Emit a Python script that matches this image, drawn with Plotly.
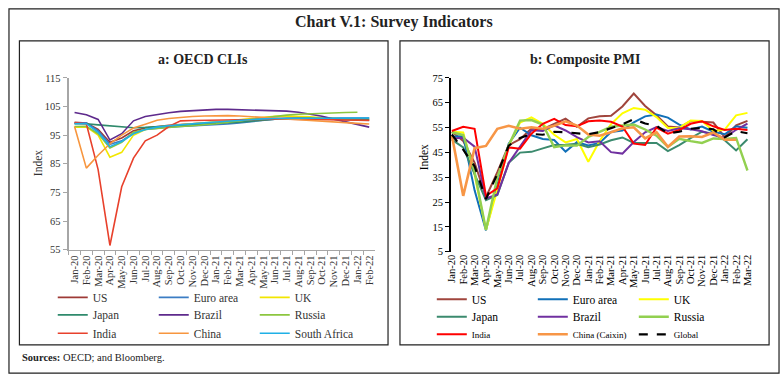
import plotly.graph_objects as go

W, H = 784, 384
SERIF = "Liberation Serif"


def px(x):
    return x / W


def py(y):
    return 1 - y / H


# ---------------- Data ----------------
months_a = ["Jan-20", "Feb-20", "Mar-20", "Apr-20", "May-20", "Jun-20", "Jul-20", "Aug-20",
            "Sep-20", "Oct-20", "Nov-20", "Dec-20", "Jan-21", "Feb-21", "Mar-21", "Apr-21",
            "May-21", "Jun-21", "Jul-21", "Aug-21", "Sep-21", "Oct-21", "Nov-21", "Dec-21",
            "Jan-22", "Feb-22"]
months_b = months_a + ["Mar-22"]

# Panel a: OECD CLIs
cli_us = [99.5, 99.2, 97.0, 92.5, 94.0, 96.5, 97.5, 98.0, 98.4, 98.7, 99.0, 99.3, 99.5, 99.7,
          100.0, 100.3, 100.6, 100.8, 100.9, 100.9, 100.8, 100.6, 100.4, 100.3, 100.2, 100.1]
cli_euro = [99.2, 99.3, 96.5, 91.8, 93.0, 95.8, 97.0, 97.5, 97.8, 98.0, 98.2, 98.4, 98.6, 98.9,
            99.3, 99.8, 100.3, 100.6, 100.8, 100.9, 101.0, 101.0, 101.0, 101.0, 101.0, 101.0]
cli_uk = [97.8, 97.9, 95.0, 87.3, 89.0, 95.0, 97.0, 97.8, 98.3, 98.7, 99.0, 99.3, 99.6, 100.0,
          100.5, 101.0, 101.4, 101.6, 101.7, 101.6, 101.4, 101.1, 100.8, 100.6, 100.5, 100.4]
cli_japan = [99.0, 99.0, 98.6, 98.2, 97.8, 97.6, 97.7, 97.9, 98.1, 98.3, 98.5, 98.7, 98.9, 99.2,
             99.5, 99.9, 100.3, 100.6, 100.8, 100.9, 100.9, 100.8, 100.7, 100.6, 100.5, 100.5]
cli_brazil = [102.9, 102.1, 100.5, 93.3, 95.5, 100.0, 101.5, 102.2, 102.8, 103.3, 103.6, 103.9,
              104.0, 104.0, 103.9, 103.8, 103.7, 103.6, 103.4, 103.0, 102.4, 101.6, 100.6, 99.6,
              98.7, 97.8]
cli_russia = [98.0, 98.1, 95.5, 90.5, 92.5, 96.0, 97.0, 97.4, 97.7, 98.0, 98.3, 98.6, 99.0, 99.5,
              100.0, 100.6, 101.1, 101.6, 102.0, 102.3, 102.5, 102.7, 102.8, 102.9, 103.0, None]
cli_india = [99.3, 99.0, 83.0, 56.5, 77.0, 87.0, 93.0, 95.0, 98.0, 100.0, 100.1, 100.2, 100.3,
             100.4, 100.5, 100.5, 100.6, 100.6, 100.6, 100.5, 100.5, 100.4, 100.4, 100.3, 100.3, 100.2]
cli_china = [98.0, 83.5, 88.0, 92.0, 95.0, 97.5, 98.8, 100.2, 100.8, 101.2, 101.5, 101.7, 101.8,
             101.8, 101.7, 101.5, 101.3, 101.0, 100.7, 100.4, 100.1, 99.8, 99.5, 99.3, 99.1, 98.9]
cli_safrica = [99.0, 99.0, 96.0, 91.0, 92.8, 95.5, 97.0, 97.8, 98.3, 98.7, 99.0, 99.3, 99.6, 99.9,
               100.2, 100.5, 100.7, 100.8, 100.9, 100.9, 100.9, 100.9, 100.9, 101.0, 101.0, 101.0]

# Panel b: Composite PMI
pmi_us = [53.3, 49.6, 40.9, 27.0, 37.0, 47.9, 50.3, 54.6, 54.3, 56.3, 58.6, 55.3, 58.7, 59.5,
          59.7, 63.5, 68.7, 63.7, 59.9, 55.4, 55.0, 57.6, 57.2, 57.0, 51.1, 55.9, 57.7]
pmi_euro = [51.3, 51.6, 29.7, 13.6, 31.9, 48.5, 54.9, 51.9, 50.4, 50.0, 45.3, 49.1, 47.8, 48.8,
            53.2, 53.8, 57.1, 59.5, 60.2, 59.0, 56.2, 54.2, 55.4, 53.3, 52.3, 55.5, 54.9]
pmi_uk = [53.3, 53.0, 36.0, 13.8, 30.0, 47.7, 57.0, 59.1, 56.5, 52.1, 49.0, 50.4, 41.2, 49.6,
          56.4, 60.7, 62.9, 62.2, 59.2, 54.8, 54.9, 57.8, 57.6, 53.6, 54.2, 59.9, 60.9]
pmi_japan = [50.1, 47.0, 36.2, 25.8, 27.8, 40.8, 44.9, 45.2, 46.6, 48.0, 48.1, 48.5, 47.1, 48.2,
             49.9, 51.0, 48.8, 48.9, 48.8, 45.5, 47.9, 50.7, 53.3, 52.5, 49.9, 45.8, 50.3]
pmi_brazil = [50.6, 50.9, 47.3, 26.5, 28.1, 40.7, 47.3, 53.9, 53.6, 55.9, 53.8, 51.1, 49.0, 49.5,
              45.1, 44.5, 49.2, 53.1, 55.2, 53.6, 54.7, 54.3, 53.5, 52.0, 50.9, 54.1, 56.6]
pmi_russia = [53.1, 52.0, 37.2, 13.9, 35.0, 47.8, 57.8, 58.0, 56.2, 47.1, 47.8, 47.7, 51.2, 53.1,
              55.3, 55.8, 56.2, 54.2, 51.7, 47.2, 50.5, 49.5, 48.8, 50.6, 50.4, 50.8, 37.7]
pmi_india = [53.6, 55.3, 54.5, 27.5, 30.5, 47.0, 46.5, 52.5, 56.5, 58.5, 56.0, 55.5, 57.5, 57.8,
             57.3, 55.4, 48.5, 48.0, 55.0, 52.5, 54.0, 56.5, 57.5, 55.5, 54.0, 54.5, 54.0]
pmi_china = [51.9, 27.5, 46.7, 47.6, 54.5, 55.7, 54.5, 55.1, 54.5, 55.7, 57.5, 55.8, 52.2, 51.7,
             53.1, 54.7, 55.1, 50.6, 53.1, 47.2, 51.4, 51.5, 51.2, 53.0, 50.1, 50.1, None]
pmi_global = [52.2, 46.1, 39.4, 26.2, 36.3, 47.7, 50.8, 52.4, 52.1, 53.3, 53.1, 52.7, 52.3, 53.2,
              54.8, 56.3, 58.4, 56.6, 55.7, 52.6, 53.3, 54.5, 54.8, 54.3, 51.1, 53.5, 52.7]

pmi_threshold = 50

# ---------------- Figure ----------------
fig = go.Figure()

series_a = [
    ("US", cli_us, "#9e3a36", "legend"),
    ("Euro area", cli_euro, "#3b7dc4", "legend"),
    ("UK", cli_uk, "#f2e600", "legend"),
    ("Japan", cli_japan, "#2f8a6c", "legend2"),
    ("Brazil", cli_brazil, "#5e2a8c", "legend2"),
    ("Russia", cli_russia, "#8cc63f", "legend2"),
    ("India", cli_india, "#e8412c", "legend3"),
    ("China", cli_china, "#f7963f", "legend3"),
    ("South Africa", cli_safrica, "#1fb0e6", "legend3"),
]
for name, vals, col, lg in series_a:
    fig.add_trace(go.Scatter(x=months_a, y=vals, mode="lines", name=name,
                             line=dict(color=col, width=1.6), legend=lg,
                             xaxis="x", yaxis="y", hoverinfo="skip"))

series_b = [
    ("US", pmi_us, "#a0453d", "legend4", 2.0, "solid"),
    ("Euro area", pmi_euro, "#1170b8", "legend4", 2.0, "solid"),
    ("UK", pmi_uk, "#ffff00", "legend4", 2.0, "solid"),
    ("Japan", pmi_japan, "#3b8a6e", "legend5", 2.0, "solid"),
    ("Brazil", pmi_brazil, "#7030a0", "legend5", 2.0, "solid"),
    ("Russia", pmi_russia, "#92d050", "legend5", 2.4, "solid"),
    ("India", pmi_india, "#ff0000", "legend6", 2.0, "solid"),
    ("China (Caixin)", pmi_china, "#f79646", "legend6", 2.6, "solid"),
    ("Global", pmi_global, "#000000", "legend6", 2.2, "dash"),
]
for name, vals, col, lg, w, dash in series_b:
    fig.add_trace(go.Scatter(x=months_b, y=vals, mode="lines", name=name,
                             line=dict(color=col, width=w, dash=dash), legend=lg,
                             xaxis="x2", yaxis="y2", hoverinfo="skip"))

# position of the 50 line in paper coords (from axis geometry)
yb_top, yb_bot = 75, 254
y50_px = yb_bot - (pmi_threshold - 5) / (75 - 5) * (yb_bot - yb_top)

tickfont_a = dict(family=SERIF, size=10.5, color="#333333")
tickfont_b = dict(family=SERIF, size=10.5, color="#000000")

fig.update_layout(
    width=W, height=H,
    margin=dict(l=0, r=0, t=0, b=0),
    paper_bgcolor="white", plot_bgcolor="white",
    showlegend=True,
    xaxis=dict(domain=[px(65), px(373)], anchor="y", type="category",
               categoryorder="array", categoryarray=months_a, range=[-0.5, 25.5],
               tickmode="array", tickvals=months_a, ticktext=months_a,
               tickson="boundaries", ticks="outside", ticklen=4, tickcolor="#a6a6a6",
               showline=True, linecolor="#a6a6a6", linewidth=1.5, tickangle=-90,
               tickfont=tickfont_a, showgrid=False, zeroline=False),
    yaxis=dict(domain=[py(252), py(75)], anchor="x", range=[55, 115], tick0=55, dtick=10,
               ticks="outside", ticklen=4, tickcolor="#a6a6a6", showline=True,
               linecolor="#a6a6a6", linewidth=2, showgrid=False, zeroline=False,
               tickfont=tickfont_a),
    xaxis2=dict(domain=[px(449), px(753)], anchor="y2", type="category",
                categoryorder="array", categoryarray=months_b, range=[-0.1, 26.5],
                tickmode="array", tickvals=months_b, ticktext=months_b,
                ticks="", showline=False, tickangle=-90, tickfont=tickfont_b,
                showgrid=False, zeroline=False),
    yaxis2=dict(domain=[py(254), py(75)], anchor="x2", range=[5, 75], tick0=5, dtick=10,
                ticks="outside", ticklen=4, tickcolor="black", showline=True,
                linecolor="black", linewidth=1.5, showgrid=False, zeroline=False,
                tickfont=tickfont_b),
    xaxis3=dict(overlaying="x2", anchor="free", position=py(y50_px), range=[-0.1, 26.5],
                showline=True, linecolor="black", linewidth=1.5, ticks="inside",
                ticklen=4, tickcolor="black", tick0=0, dtick=1, showticklabels=False,
                showgrid=False, zeroline=False),
)

# legends: one per row (3 columns each)
legend_common = dict(orientation="h", xanchor="left", yanchor="middle",
                     entrywidth=56, entrywidthmode="pixels", itemwidth=30,
                     bgcolor="rgba(0,0,0,0)", borderwidth=0, tracegroupgap=0,
                     itemclick=False, itemdoubleclick=False)
fa = dict(family=SERIF, size=11.5, color="#333333")
fb = dict(family=SERIF, size=11.5, color="#000000")
fb_small = dict(family=SERIF, size=9, color="#000000")
fig.update_layout(
    legend=dict(**legend_common, x=px(49), y=py(301), font=fa),
    legend2=dict(**legend_common, x=px(49), y=py(319), font=fa),
    legend3=dict(**legend_common, x=px(49), y=py(338), font=fa),
    legend4=dict(**legend_common, x=px(430), y=py(303), font=fb),
    legend5=dict(**legend_common, x=px(430), y=py(321), font=fb),
    legend6=dict(**legend_common, x=px(430), y=py(339), font=fb_small),
)

# frames
shapes = [
    dict(type="rect", xref="paper", yref="paper", x0=px(5), x1=px(779), y0=py(379), y1=py(4),
         line=dict(color="#222222", width=1.2)),
    dict(type="rect", xref="paper", yref="paper", x0=px(15.5), x1=px(386), y0=py(350), y1=py(37),
         line=dict(color="#222222", width=1.2)),
    dict(type="rect", xref="paper", yref="paper", x0=px(398), x1=px(769), y0=py(350), y1=py(37),
         line=dict(color="#222222", width=1.2)),
]
fig.update_layout(shapes=shapes)

annotations = [
    dict(text="<b>Chart V.1: Survey Indicators</b>", x=px(392), y=py(18), xref="paper",
         yref="paper", showarrow=False, font=dict(family=SERIF, size=16, color="#222222"),
         xanchor="center", yanchor="middle"),
    dict(text="<b>a: OECD CLIs</b>", x=px(200), y=py(56), xref="paper", yref="paper",
         showarrow=False, font=dict(family=SERIF, size=14, color="#222222"),
         xanchor="center", yanchor="middle"),
    dict(text="<b>b: Composite PMI</b>", x=px(584), y=py(56), xref="paper", yref="paper",
         showarrow=False, font=dict(family=SERIF, size=14, color="#222222"),
         xanchor="center", yanchor="middle"),
    dict(text="Index", x=px(35), y=py(163), xref="paper", yref="paper", showarrow=False,
         textangle=-90, font=dict(family=SERIF, size=11.5, color="#333333"),
         xanchor="center", yanchor="middle"),
    dict(text="Index", x=px(422), y=py(157), xref="paper", yref="paper", showarrow=False,
         textangle=-90, font=dict(family=SERIF, size=11.5, color="#000000"),
         xanchor="center", yanchor="middle"),
    dict(text="<b>Sources:</b> OECD; and Bloomberg.", x=px(16), y=py(363), xref="paper",
         yref="paper", showarrow=False, font=dict(family=SERIF, size=10.5, color="#222222"),
         xanchor="left", yanchor="middle"),
]
fig.update_layout(annotations=annotations)

fig.write_html(
    "out.html",
    config={"displayModeBar": False, "staticPlot": True},
    post_script="document.body.style.margin='0';document.body.style.overflow='hidden';",
)
